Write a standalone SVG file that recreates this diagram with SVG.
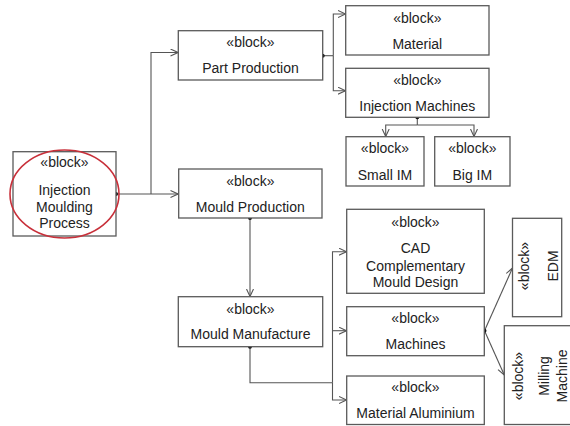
<svg xmlns="http://www.w3.org/2000/svg" width="570" height="426" viewBox="0 0 570 426">
<defs>
<style>
.box{fill:#fff;stroke:#5a5a5a;stroke-width:1.3}
.t{font-family:"Liberation Sans",Arial,sans-serif;font-size:14px;fill:#222;text-anchor:middle}
.c{fill:none;stroke:#555;stroke-width:1.1}
.dot{fill:#111}
</style>
<marker id="a" markerWidth="9" markerHeight="9" refX="8" refY="4" orient="auto" markerUnits="userSpaceOnUse">
<path d="M0.5,0.5 L8,4 L0.5,7.5" fill="none" stroke="#555" stroke-width="1.1"/>
</marker>
</defs>
<rect width="570" height="426" fill="#fff"/>

<g id="connectors">
<path class="c" d="M116,194 H178" marker-end="url(#a)"/>
<path class="c" d="M151,194 V52.5 H178" marker-end="url(#a)"/>
<path class="c" d="M322.7,55.7 H333.3"/>
<path class="c" d="M333.3,55.7 V14 H345.5" marker-end="url(#a)"/>
<path class="c" d="M333.3,55.7 V90.7 H345.5" marker-end="url(#a)"/>
<path class="c" d="M417.3,117.3 V125"/>
<path class="c" d="M417.3,125 H385.7 V136.5" marker-end="url(#a)"/>
<path class="c" d="M417.3,125 H474 V136.5" marker-end="url(#a)"/>
<path class="c" d="M250,218 V296.5" marker-end="url(#a)"/>
<path class="c" d="M250,346.7 V382.7 H332.5"/>
<path class="c" d="M332.5,382.7 V251.7 H346.5" marker-end="url(#a)"/>
<path class="c" d="M332.5,330.7 H346.5" marker-end="url(#a)"/>
<path class="c" d="M332.5,382.7 V400 H346.5" marker-end="url(#a)"/>
<path class="c" d="M484.5,330.7 L512.5,268" marker-end="url(#a)"/>
<path class="c" d="M484.5,330.7 L504.3,375" marker-end="url(#a)"/>
<circle class="dot" cx="116" cy="194" r="2"/>
<circle class="dot" cx="322.7" cy="55.7" r="2"/>
<circle class="dot" cx="417.3" cy="117.3" r="2"/>
<circle class="dot" cx="250" cy="218" r="2"/>
<circle class="dot" cx="250" cy="346.7" r="2"/>
<circle class="dot" cx="484.5" cy="330.7" r="2"/>
</g>

<g id="injection-moulding-process">
<rect class="box" x="13" y="151.7" width="103" height="84.3"/>
<text class="t" x="64.5" y="167.3">«block»</text>
<text class="t" x="64.5" y="195">Injection</text>
<text class="t" x="64.5" y="211.7">Moulding</text>
<text class="t" x="64.5" y="228.3">Process</text>
<ellipse cx="64.5" cy="194" rx="54.5" ry="44" fill="none" stroke="#c8303a" stroke-width="1.6"/>
</g>

<g id="part-production">
<rect class="box" x="178.3" y="30.7" width="144.4" height="49.3"/>
<text class="t" x="250.5" y="46.7">«block»</text>
<text class="t" x="250.5" y="73.3">Part Production</text>
</g>

<g id="material">
<rect class="box" x="345.7" y="5.7" width="143.3" height="49.3"/>
<text class="t" x="417.3" y="22.5">«block»</text>
<text class="t" x="417.3" y="48.5">Material</text>
</g>

<g id="injection-machines">
<rect class="box" x="345.7" y="68.3" width="143.3" height="49"/>
<text class="t" x="417.3" y="84.5">«block»</text>
<text class="t" x="417.3" y="111">Injection Machines</text>
</g>

<g id="small-im">
<rect class="box" x="346" y="136.7" width="78" height="49.3"/>
<text class="t" x="385" y="152.5">«block»</text>
<text class="t" x="385" y="180">Small IM</text>
</g>

<g id="big-im">
<rect class="box" x="434.7" y="136.7" width="75.3" height="49.3"/>
<text class="t" x="472.3" y="152.5">«block»</text>
<text class="t" x="472.3" y="180">Big IM</text>
</g>

<g id="mould-production">
<rect class="box" x="178.7" y="169" width="143.3" height="49"/>
<text class="t" x="250.3" y="185.5">«block»</text>
<text class="t" x="250.3" y="211.7">Mould Production</text>
</g>

<g id="mould-manufacture">
<rect class="box" x="178.3" y="296.7" width="144.4" height="50"/>
<text class="t" x="250.5" y="313.5">«block»</text>
<text class="t" x="250.5" y="339.3">Mould Manufacture</text>
</g>

<g id="cad-complementary-mould-design">
<rect class="box" x="346.7" y="209.3" width="137.6" height="84"/>
<text class="t" x="415.5" y="226.7">«block»</text>
<text class="t" x="415.5" y="253">CAD</text>
<text class="t" x="415.5" y="270.5">Complementary</text>
<text class="t" x="415.5" y="287.3">Mould Design</text>
</g>

<g id="machines">
<rect class="box" x="346.7" y="306.7" width="137.6" height="49"/>
<text class="t" x="415.5" y="322.7">«block»</text>
<text class="t" x="415.5" y="349.3">Machines</text>
</g>

<g id="material-aluminium">
<rect class="box" x="346.7" y="376" width="137.6" height="48.5"/>
<text class="t" x="415.5" y="392.3">«block»</text>
<text class="t" x="415.5" y="418.3">Material Aluminium</text>
</g>

<g id="edm">
<rect class="box" x="512.5" y="218.3" width="49.2" height="98.4"/>
<text class="t" transform="translate(529,266) rotate(-90)">«block»</text>
<text class="t" transform="translate(558,266) rotate(-90)">EDM</text>
</g>

<g id="milling-machine">
<rect class="box" x="504.3" y="325.7" width="80" height="98.8"/>
<text class="t" transform="translate(522.5,376) rotate(-90)">«block»</text>
<text class="t" transform="translate(548.5,376) rotate(-90)">Milling</text>
<text class="t" transform="translate(566.5,376) rotate(-90)">Machine</text>
</g>
</svg>
